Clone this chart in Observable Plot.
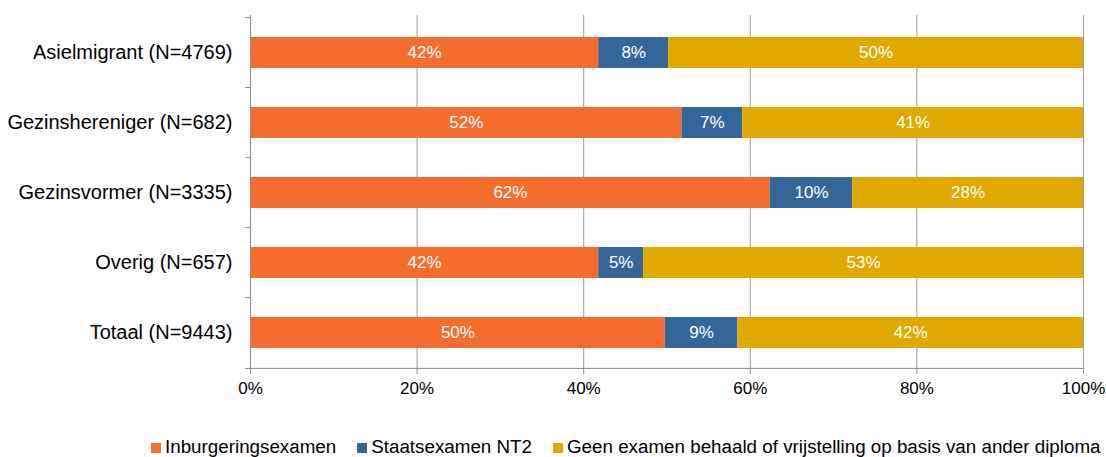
<!DOCTYPE html>
<html>
<head>
<meta charset="utf-8">
<script src="https://cdn.jsdelivr.net/npm/d3@7"></script>
<script src="https://cdn.jsdelivr.net/npm/@observablehq/plot@0.6"></script>
<style>
  html, body { margin: 0; padding: 0; background: #fff; }
  body { width: 1106px; height: 457px; overflow: hidden; font-family: "Liberation Sans", Arial, sans-serif; }
  #legend { display: flex; align-items: center; padding-left: 151px; margin-top: 26px; font-size: 18.8px; line-height: 21px; color: #000; white-space: nowrap; }
  .item { display: flex; align-items: center; margin-right: 21px; }
  .sw { width: 10px; height: 10px; margin-right: 4px; margin-top: 2px; }
</style>
</head>
<body>
<div id="chart"></div>
<div id="legend"></div>
<script>
const categories = ["Asielmigrant (N=4769)", "Gezinshereniger (N=682)", "Gezinsvormer (N=3335)", "Overig (N=657)", "Totaal (N=9443)"];
const series = ["Inburgeringsexamen", "Staatsexamen NT2", "Geen examen behaald of vrijstelling op basis van ander diploma"];
const inburgeringsexamen = [41.8, 51.8, 62.4, 41.8, 49.8];
const staatsexamen = [8.4, 7.3, 9.9, 5.4, 8.7];
const geenExamen = [49.8, 40.9, 27.7, 52.8, 41.5];
const xTicks = [0, 20, 40, 60, 80, 100];
const colors = ["#F46D2F", "#346699", "#E1A900"];

const seriesValues = [inburgeringsexamen, staatsexamen, geenExamen];
const data = [];
categories.forEach((cat, i) => {
  series.forEach((s, j) => data.push({cat, series: s, value: seriesValues[j][i]}));
});

const W = 1106, H = 410, mT = 15, mB = 41, mL = 250, mR = 23;
const step = (H - mT - mB) / categories.length;

const chart = Plot.plot({
  width: W, height: H,
  marginLeft: mL, marginRight: mR, marginTop: mT, marginBottom: mB,
  style: {fontFamily: "'Liberation Sans', Arial, sans-serif", fontSize: "17px", color: "#000", background: "#fff"},
  x: {domain: [0, 100], label: null},
  y: {domain: categories, paddingInner: 0.56, paddingOuter: 0.28, label: null},
  color: {domain: series, range: colors},
  marks: [
    Plot.ruleX(xTicks.slice(1), {stroke: "#9a9a9a", strokeWidth: 1}),
    Plot.barX(data, Plot.stackX({x: "value", y: "cat", fill: "series", z: "series"})),
    Plot.text(data, Plot.stackX({x: "value", y: "cat", z: "series", text: d => Math.round(d.value) + "%", fill: "white", fontSize: 17})),
    Plot.ruleX([0], {stroke: "#8c8c8c"}),
    Plot.ruleY(categories, {y: d => d, x1: -0.6, x2: 0, dy: -step / 2, stroke: "#8c8c8c", clip: false}),
    Plot.ruleY(categories.slice(-1), {y: d => d, x1: -0.6, x2: 100, dy: step / 2, stroke: "#8c8c8c", clip: false}),
    Plot.axisX({ticks: xTicks, tickSize: 5, tickPadding: 7, tickFormat: d => d + "%", stroke: "#8c8c8c", fill: "#000", fontSize: 17, label: null}),
    Plot.axisY({tickSize: 0, tickPadding: 18, fill: "#000", fontSize: 20, label: null})
  ]
});
document.getElementById("chart").appendChild(chart);

const legend = document.getElementById("legend");
series.forEach((s, i) => {
  const it = document.createElement("div");
  it.className = "item";
  const sw = document.createElement("span");
  sw.className = "sw";
  sw.style.background = colors[i];
  const t = document.createElement("span");
  t.textContent = s;
  it.appendChild(sw); it.appendChild(t);
  legend.appendChild(it);
});
</script>
</body>
</html>
